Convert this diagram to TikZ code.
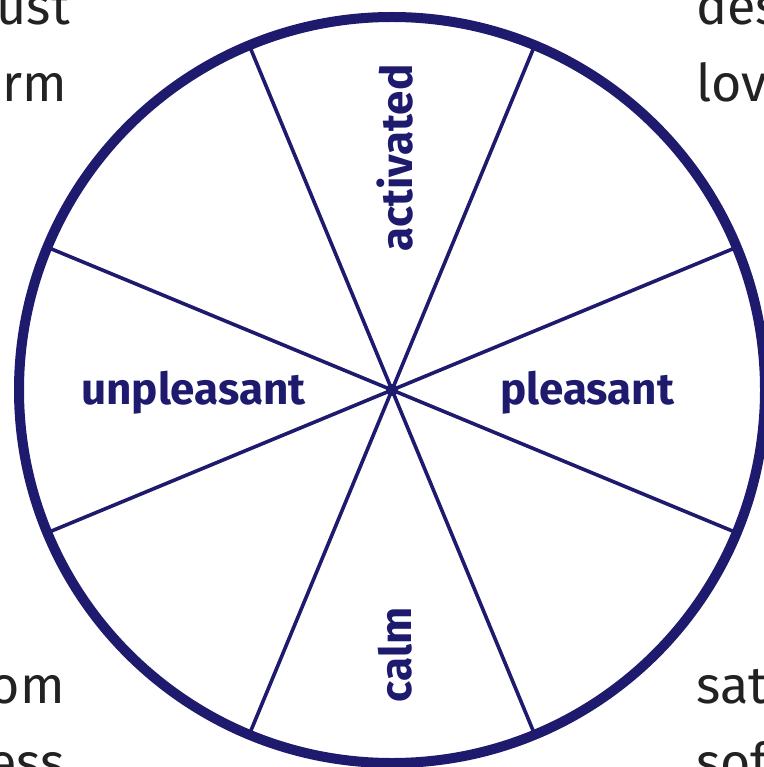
\documentclass[tikz,border=0pt]{standalone}
\usepackage{fontspec}
\setmainfont{Fira Sans}
\definecolor{navy}{HTML}{1E1A6E}
\definecolor{ink}{HTML}{222222}
\tikzset{
  rim/.style={draw=navy, line width=10pt},
  spoke/.style={draw=navy, line width=3.6pt},
  axislabel/.style={text=navy, font=\fontsize{44}{46}\selectfont\bfseries, inner sep=0pt},
  cornertext/.style={text=ink, font=\fontsize{52}{60}\selectfont, inner sep=0pt}
}
\begin{document}
\begin{tikzpicture}[x=1pt,y=-1pt]
\useasboundingbox[fill=white] (0,0) rectangle (763,767);
\coordinate (c) at (392,390);
\draw[rim] (c) circle (373);
\foreach \a in {22.5,67.5,112.5,157.5,202.5,247.5,292.5,337.5}
  \draw[spoke] (c) -- ++(\a:373);
\fill[navy] (c) circle (6);
\node[axislabel, anchor=base] (act) at (412,158) [rotate=90] {activated};
\node[axislabel, anchor=base] (calm) at (411,655) [rotate=90] {calm};
\node[axislabel, anchor=base west] (unp) at (81,404) {unpleasant};
\node[axislabel, anchor=base west] (ple) at (500,404) {pleasant};
\node[cornertext, anchor=base east] (tl1) at (70,25) {ust};
\node[cornertext, anchor=base east] (tl2) at (67,102) {rm};
\node[cornertext, anchor=base west] (tr1) at (696,25) {des};
\node[cornertext, anchor=base west] (tr2) at (696,102) {lov};
\node[cornertext, anchor=base east] (bl1) at (65,703) {om};
\node[cornertext, anchor=base east] (bl2) at (65,780) {ess};
\node[cornertext, anchor=base west] (br1) at (696,703) {sat};
\node[cornertext, anchor=base west] (br2) at (696,780) {sof};
\end{tikzpicture}
\end{document}
